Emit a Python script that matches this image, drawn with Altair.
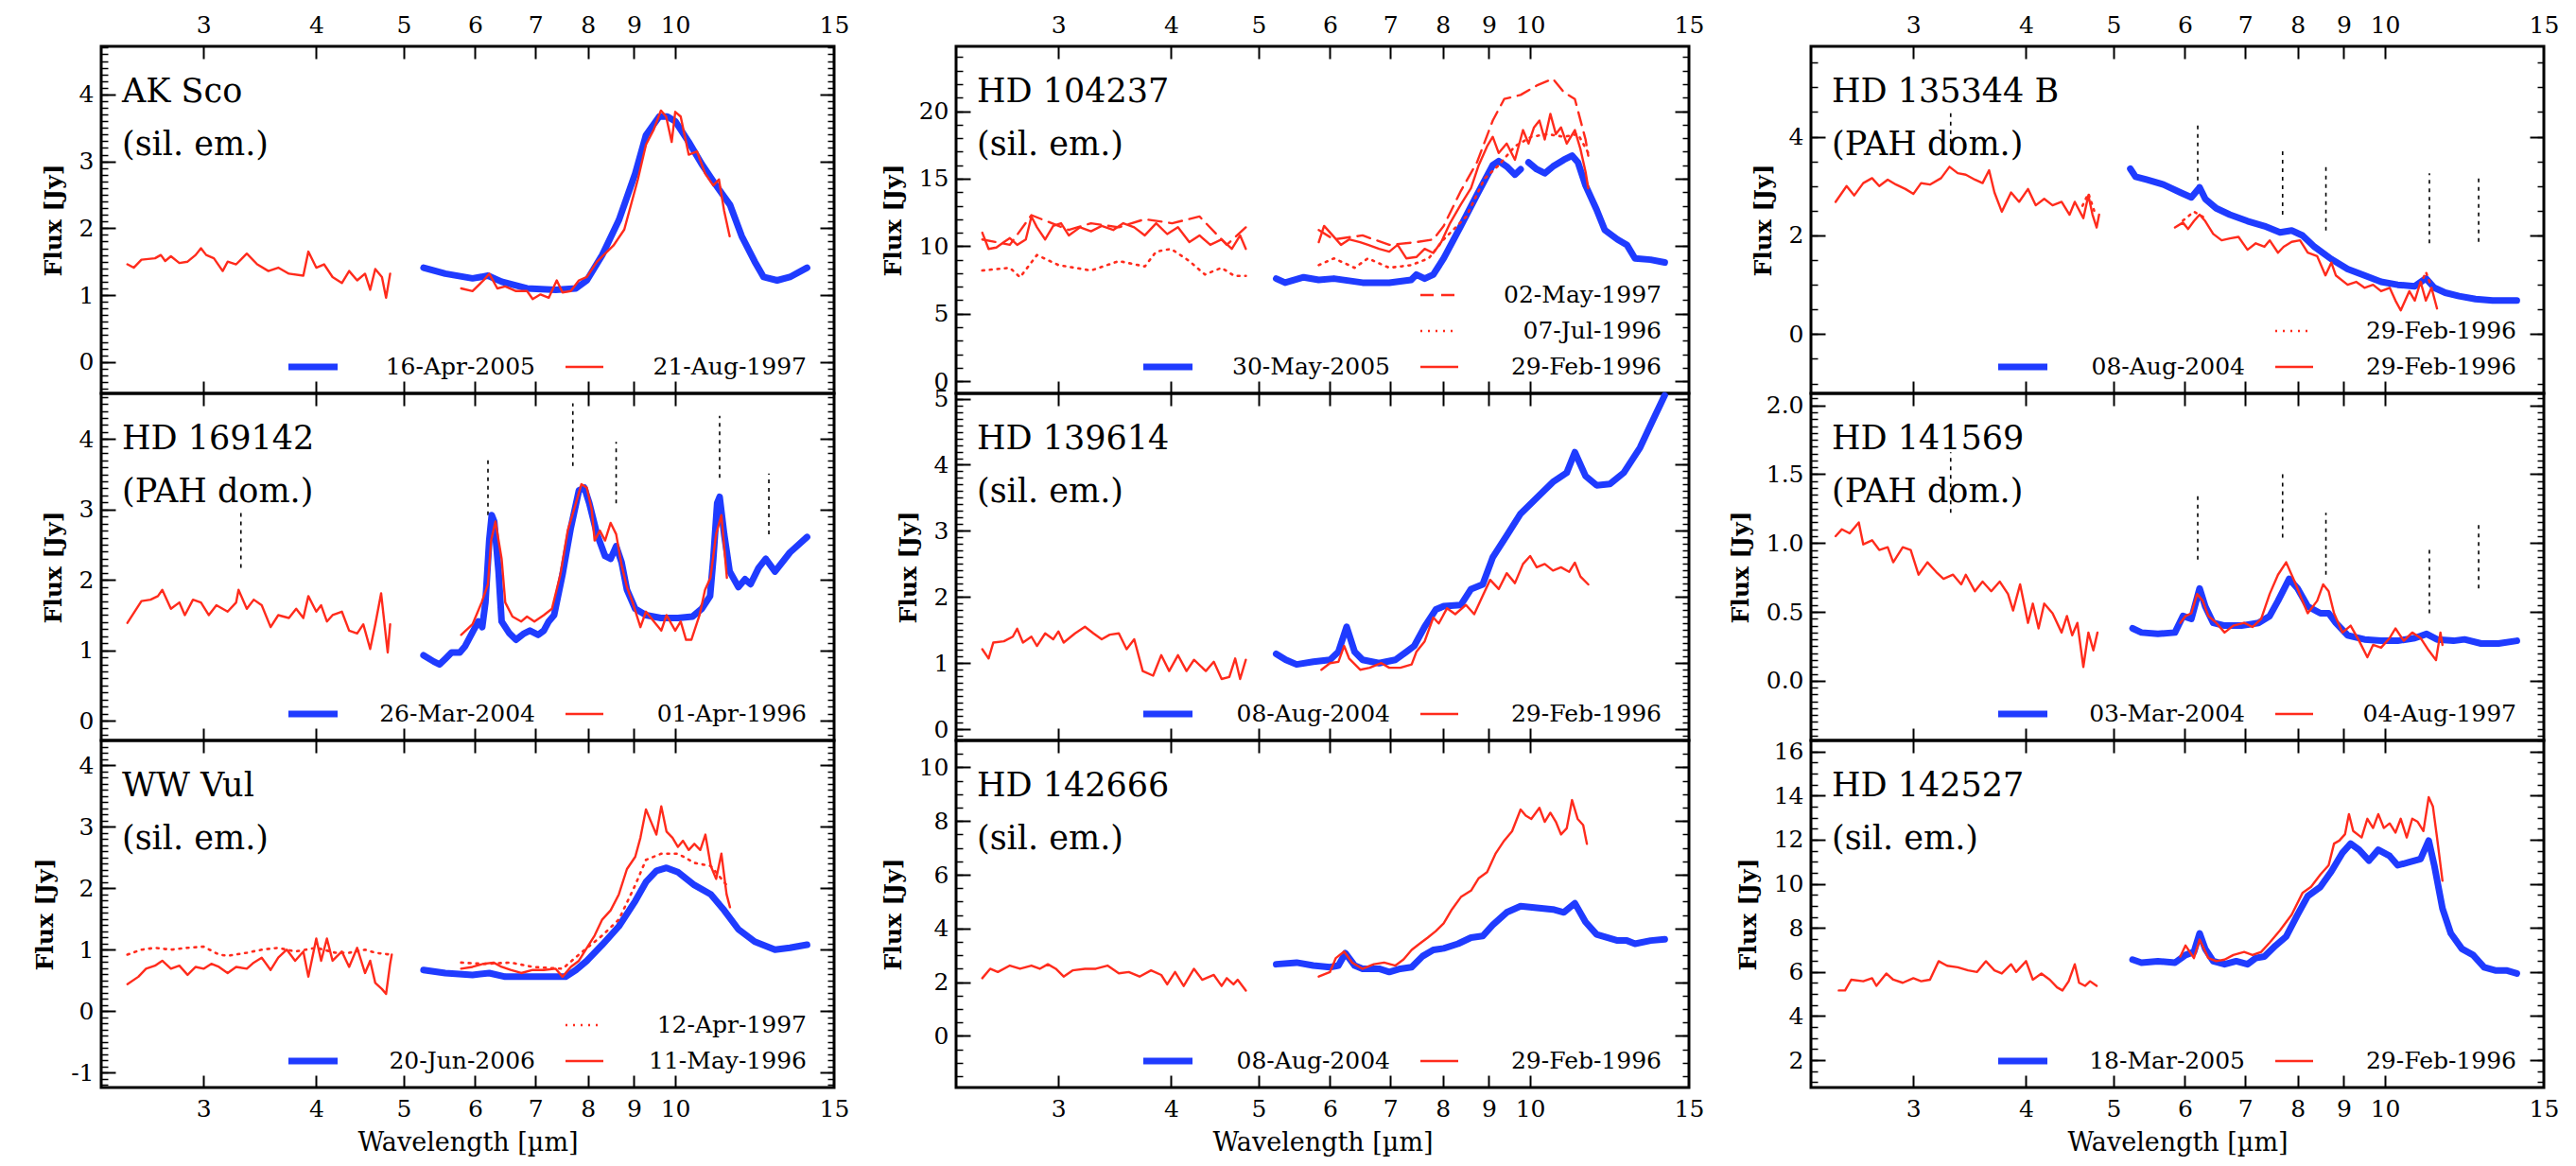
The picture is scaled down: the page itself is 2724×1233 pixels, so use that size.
import math
import altair as alt
import pandas as pd

# ---------------- data: (wavelength [um], flux [Jy]) ----------------
# AK Sco
AKSCO_BLUE = [(5.26,1.41),(5.56,1.32),(5.96,1.25),(6.2,1.29),(6.42,1.20),(6.85,1.10),(7.37,1.08),(7.76,1.10),(7.98,1.22),(8.3,1.60),(8.66,2.12),(9.03,2.82),(9.28,3.39),(9.6,3.67),(9.8,3.67),(10.0,3.60),(10.35,3.29),(10.7,2.96),(11.1,2.64),(11.5,2.35),(11.85,1.88),(12.25,1.50),(12.53,1.27),(12.97,1.22),(13.4,1.27),(14.0,1.41)]
AKSCO_RED_SW = [(2.47,1.46),(2.51,1.41),(2.56,1.53),(2.65,1.55),(2.69,1.60),(2.72,1.51),(2.76,1.58),(2.82,1.48),(2.88,1.50),(2.94,1.60),(2.98,1.70),(3.02,1.60),(3.08,1.55),(3.15,1.36),(3.19,1.50),(3.26,1.46),(3.35,1.62),(3.44,1.46),(3.54,1.36),(3.63,1.41),(3.73,1.32),(3.87,1.29),(3.92,1.65),(4.00,1.41),(4.08,1.46),(4.17,1.27),(4.27,1.18),(4.35,1.36),(4.44,1.22),(4.53,1.32),(4.59,1.08),(4.65,1.39),(4.73,1.27),(4.78,0.96),(4.83,1.32)]
AKSCO_RED_LW = [(5.79,1.10),(5.96,1.06),(6.13,1.22),(6.22,1.32),(6.35,1.10),(6.48,1.13),(6.66,1.06),(6.85,1.06),(6.95,0.94),(7.09,1.01),(7.24,0.96),(7.39,1.22),(7.50,1.04),(7.66,1.06),(7.82,1.22),(7.98,1.27),(8.19,1.50),(8.54,1.74),(8.78,1.98),(9.09,2.73),(9.28,3.25),(9.47,3.48),(9.64,3.76),(9.77,3.67),(9.91,3.29),(10.0,3.74),(10.14,3.67),(10.35,3.10),(10.57,3.15),(10.79,2.82),(11.02,2.64),(11.18,2.73),(11.33,2.26),(11.49,1.88)]

# HD 169142
HD169142_BLUE = [(5.26,0.93),(5.40,0.84),(5.48,0.80),(5.56,0.88),(5.65,0.97),(5.77,0.97),(5.85,1.06),(5.95,1.24),(6.05,1.41),(6.11,1.33),(6.16,1.68),(6.22,2.56),(6.26,2.92),(6.30,2.83),(6.37,2.12),(6.42,1.41),(6.55,1.24),(6.66,1.15),(6.80,1.24),(6.90,1.28),(7.05,1.22),(7.15,1.28),(7.24,1.41),(7.34,1.50),(7.50,2.08),(7.66,2.74),(7.82,3.27),(7.93,3.31),(8.03,3.09),(8.19,2.65),(8.36,2.34),(8.48,2.30),(8.60,2.48),(8.72,2.25),(8.84,1.86),(9.03,1.59),(9.28,1.50),(9.64,1.46),(10.07,1.46),(10.45,1.48),(10.7,1.59),(10.93,1.77),(11.02,2.30),(11.13,3.09),(11.2,3.18),(11.33,2.65),(11.49,2.12),(11.75,1.90),(11.95,2.01),(12.12,1.94),(12.37,2.17),(12.6,2.30),(12.9,2.12),(13.4,2.39),(14.0,2.61)]
HD169142_RED_SW = [(2.47,1.39),(2.56,1.70),(2.62,1.72),(2.67,1.77),(2.70,1.86),(2.76,1.59),(2.82,1.68),(2.86,1.50),(2.92,1.72),(2.98,1.68),(3.04,1.50),(3.10,1.64),(3.19,1.55),(3.26,1.68),(3.28,1.86),(3.35,1.59),(3.41,1.72),(3.48,1.64),(3.56,1.33),(3.63,1.50),(3.73,1.46),(3.80,1.59),(3.87,1.46),(3.92,1.77),(4.00,1.55),(4.05,1.64),(4.11,1.41),(4.17,1.50),(4.27,1.55),(4.35,1.28),(4.44,1.24),(4.51,1.37),(4.59,1.02),(4.65,1.37),(4.72,1.81),(4.77,1.28),(4.80,0.97),(4.83,1.37)]
HD169142_RED_LW = [(5.79,1.22),(5.96,1.37),(6.10,1.68),(6.20,1.94),(6.25,2.56),(6.32,2.83),(6.42,2.30),(6.48,1.68),(6.60,1.48),(6.75,1.41),(6.85,1.48),(6.98,1.41),(7.15,1.50),(7.30,1.59),(7.46,2.08),(7.60,2.70),(7.76,3.09),(7.87,3.36),(7.98,3.31),(8.08,3.00),(8.14,2.56),(8.25,2.70),(8.36,2.56),(8.48,2.81),(8.60,2.65),(8.72,2.21),(8.84,1.90),(8.97,1.68),(9.15,1.33),(9.28,1.55),(9.47,1.41),(9.65,1.28),(9.78,1.50),(10.0,1.28),(10.14,1.41),(10.28,1.15),(10.42,1.15),(10.64,1.50),(10.79,1.86),(10.94,2.03),(11.1,2.65),(11.25,2.92),(11.41,2.03)]

# WW Vul
WWVUL_BLUE = [(5.26,0.67),(5.56,0.62),(5.96,0.59),(6.22,0.62),(6.48,0.56),(6.95,0.56),(7.56,0.56),(7.76,0.67),(7.98,0.82),(8.30,1.08),(8.66,1.38),(9.03,1.79),(9.28,2.10),(9.53,2.28),(9.78,2.33),(10.07,2.26),(10.5,2.05),(10.95,1.90),(11.33,1.64),(11.75,1.33),(12.25,1.13),(12.9,1.00),(13.4,1.03),(14.0,1.08)]
WWVUL_RED_SW = [(2.47,0.44),(2.54,0.56),(2.59,0.69),(2.65,0.74),(2.70,0.82),(2.76,0.69),(2.82,0.74),(2.88,0.59),(2.94,0.72),(3.00,0.69),(3.06,0.77),(3.12,0.72),(3.19,0.62),(3.26,0.72),(3.35,0.69),(3.41,0.79),(3.48,0.87),(3.56,0.67),(3.63,0.87),(3.71,1.00),(3.79,0.82),(3.87,0.97),(3.92,0.56),(4.00,1.18),(4.05,0.82),(4.11,1.18),(4.17,0.82),(4.27,0.97),(4.35,0.72),(4.44,1.03),(4.53,0.62),(4.59,0.82),(4.65,0.46),(4.73,0.36),(4.78,0.28),(4.83,0.77),(4.85,0.92)]
WWVUL_RED_LW = [(5.79,0.69),(5.96,0.72),(6.13,0.77),(6.29,0.79),(6.42,0.72),(6.57,0.67),(6.75,0.62),(6.95,0.67),(7.15,0.67),(7.37,0.69),(7.50,0.56),(7.66,0.72),(7.82,0.82),(7.98,1.03),(8.14,1.23),(8.30,1.49),(8.48,1.64),(8.66,1.90),(8.84,2.31),(9.03,2.51),(9.15,2.82),(9.28,3.28),(9.40,3.08),(9.53,2.87),(9.65,3.33),(9.78,2.92),(9.93,2.82),(10.07,2.67),(10.2,2.77),(10.35,2.62),(10.5,2.72),(10.66,2.62),(10.8,2.87),(10.95,2.36),(11.1,2.15),(11.25,2.56),(11.4,1.90),(11.5,1.69)]
WWVUL_DOT_SW = [(2.47,0.92),(2.56,1.00),(2.65,1.03),(2.76,1.00),(2.88,1.03),(3.00,1.05),(3.12,0.92),(3.19,0.90),(3.35,0.95),(3.48,1.00),(3.63,1.03),(3.79,0.97),(4.00,1.03),(4.20,0.95),(4.35,0.95),(4.53,1.00),(4.65,0.95),(4.83,0.92)]
WWVUL_DOT_LW = [(5.79,0.79),(6.13,0.77),(6.57,0.79),(6.95,0.72),(7.50,0.69),(7.82,0.92),(8.30,1.23),(8.66,1.49),(9.03,2.05),(9.28,2.46),(9.65,2.56),(10.07,2.56),(10.5,2.41),(10.95,2.36),(11.4,2.05)]

# HD 104237
HD104237_BLUE_A = [(5.23,7.6),(5.35,7.3),(5.61,7.7),(5.83,7.5),(6.06,7.6),(6.52,7.3),(6.98,7.3),(7.38,7.5),(7.48,7.9),(7.64,7.6),(7.81,7.9),(8.02,9.1),(8.38,11.5),(8.73,13.8),(9.09,16.0),(9.23,16.3),(9.42,15.9),(9.62,15.3),(9.76,15.7)]
HD104237_BLUE_B = [(9.96,16.2),(10.17,15.7),(10.38,15.4),(10.6,15.9),(10.9,16.4),(11.13,16.7),(11.3,16.2),(11.52,14.5),(11.85,12.7),(12.1,11.2),(12.5,10.5),(12.8,10.1),(13.07,9.1),(13.6,9.0),(14.1,8.8)]
HD104237_RED_SW = [(2.47,11.0),(2.51,9.8),(2.56,9.9),(2.61,10.3),(2.65,10.6),(2.70,10.1),(2.76,10.5),(2.80,12.2),(2.84,11.4),(2.90,10.5),(2.96,11.5),(3.02,11.7),(3.08,10.8),(3.17,11.4),(3.26,11.1),(3.35,11.5),(3.45,11.2),(3.54,11.7),(3.64,11.4),(3.74,10.8),(3.85,11.7),(3.96,10.9),(4.07,11.4),(4.19,10.3),(4.30,10.8),(4.42,10.1),(4.55,10.5),(4.67,9.8),(4.77,10.8),(4.84,9.8)]
HD104237_RED_LW = [(5.83,10.3),(5.91,11.5),(6.04,10.8),(6.17,10.1),(6.30,10.5),(6.48,10.3),(6.61,10.1),(6.80,9.8),(6.98,9.6),(7.13,10.1),(7.29,9.1),(7.48,9.2),(7.64,9.8),(7.81,9.5),(7.97,10.3),(8.15,11.7),(8.38,13.1),(8.60,14.3),(8.77,16.0),(8.96,17.4),(9.09,18.1),(9.23,16.9),(9.42,17.6),(9.62,16.4),(9.82,18.6),(9.96,17.6),(10.1,18.8),(10.24,19.3),(10.38,17.9),(10.53,19.8),(10.68,18.3),(10.82,18.8),(10.98,17.6),(11.21,18.6),(11.37,17.2),(11.52,15.5),(11.6,14.3)]
HD104237_DASH_SW = [(2.47,10.5),(2.65,10.1),(2.80,12.3),(3.08,11.2),(3.26,11.7),(3.50,11.4),(3.74,12.0),(4.01,11.7),(4.30,12.2),(4.61,10.1),(4.84,11.4)]
HD104237_DASH_LW = [(5.83,11.2),(6.06,10.5),(6.52,10.8),(6.98,10.1),(7.48,10.3),(7.81,10.5),(8.02,11.5),(8.38,14.1),(8.73,16.2),(9.09,19.3),(9.36,20.9),(9.76,21.2),(10.17,21.9),(10.6,22.4),(10.9,21.4),(11.21,20.9),(11.52,17.9),(11.6,16.7)]
HD104237_DOT_SW = [(2.47,8.2),(2.65,8.4),(2.72,7.7),(2.84,9.35),(3.00,8.6),(3.26,8.2),(3.50,8.9),(3.74,8.5),(3.85,9.6),(4.00,9.8),(4.19,8.9),(4.36,7.9),(4.55,8.4),(4.70,7.8),(4.84,7.8)]
HD104237_DOT_LW = [(5.83,8.6),(6.06,9.1),(6.39,8.4),(6.61,9.1),(6.98,8.4),(7.38,8.6),(7.72,9.1),(8.02,10.5),(8.50,12.2),(8.90,15.0),(9.23,16.0),(9.62,17.4),(10.03,18.1),(10.45,18.3),(10.9,18.1),(11.3,18.3),(11.6,16.9)]

# HD 139614
HD139614_BLUE = [(5.23,1.14),(5.36,1.05),(5.51,0.98),(5.75,1.02),(6.0,1.05),(6.13,1.17),(6.26,1.55),(6.39,1.17),(6.52,1.05),(6.80,1.00),(7.09,1.05),(7.29,1.17),(7.44,1.26),(7.64,1.55),(7.86,1.81),(8.02,1.86),(8.38,1.88),(8.60,2.12),(8.86,2.19),(9.09,2.60),(9.42,2.93),(9.76,3.26),(10.17,3.50),(10.6,3.74),(10.98,3.88),(11.21,4.19),(11.52,3.83),(11.85,3.69),(12.26,3.71),(12.7,3.88),(13.24,4.26),(13.6,4.60),(14.1,5.05)]
HD139614_RED_SW = [(2.47,1.21),(2.51,1.07),(2.54,1.31),(2.61,1.33),(2.67,1.40),(2.70,1.52),(2.74,1.31),(2.80,1.40),(2.84,1.26),(2.90,1.45),(2.96,1.36),(3.00,1.48),(3.04,1.31),(3.13,1.45),(3.21,1.55),(3.28,1.45),(3.35,1.36),(3.42,1.43),(3.50,1.45),(3.57,1.21),(3.64,1.36),(3.72,0.88),(3.82,0.81),(3.90,1.12),(3.98,0.88),(4.07,1.12),(4.16,0.88),(4.24,1.05),(4.37,0.88),(4.46,1.02),(4.55,0.76),(4.64,0.79),(4.71,1.07),(4.77,0.76),(4.84,1.05)]
HD139614_RED_LW = [(5.87,0.90),(6.0,1.00),(6.13,1.02),(6.22,1.26),(6.30,1.07),(6.48,0.90),(6.64,0.93),(6.84,1.00),(6.98,0.93),(7.18,0.93),(7.39,0.98),(7.48,1.17),(7.64,1.33),(7.81,1.69),(7.92,1.60),(8.09,1.83),(8.26,1.74),(8.49,1.88),(8.67,1.74),(8.86,2.02),(9.03,2.26),(9.23,2.12),(9.42,2.36),(9.62,2.21),(9.82,2.50),(10.0,2.62),(10.17,2.45),(10.38,2.50),(10.6,2.40),(10.82,2.45),(11.05,2.38),(11.21,2.52),(11.37,2.31),(11.6,2.19)]

# HD 142666
HD142666_BLUE = [(5.23,2.67),(5.51,2.73),(5.75,2.62),(6.0,2.56),(6.13,2.62),(6.24,3.08),(6.39,2.62),(6.52,2.50),(6.80,2.50),(6.98,2.38),(7.18,2.50),(7.39,2.56),(7.60,2.97),(7.81,3.20),(8.02,3.26),(8.32,3.43),(8.60,3.66),(8.86,3.72),(9.09,4.13),(9.42,4.60),(9.76,4.83),(10.17,4.77),(10.6,4.71),(10.9,4.60),(11.21,4.94),(11.52,4.24),(11.85,3.78),(12.5,3.55),(12.8,3.55),(13.07,3.43),(13.6,3.55),(14.1,3.60)]
HD142666_RED_SW = [(2.47,2.15),(2.52,2.50),(2.57,2.38),(2.65,2.62),(2.72,2.50),(2.80,2.62),(2.86,2.50),(2.92,2.67),(2.98,2.50),(3.04,2.21),(3.11,2.44),(3.21,2.50),(3.30,2.50),(3.40,2.62),(3.50,2.33),(3.59,2.38),(3.69,2.21),(3.80,2.44),(3.90,2.27),(3.96,1.92),(4.04,2.38),(4.13,1.86),(4.24,2.50),(4.33,2.09),(4.46,2.27),(4.55,1.86),(4.61,2.15),(4.69,1.92),(4.74,2.09),(4.84,1.69)]
HD142666_RED_LW = [(5.83,2.21),(6.0,2.38),(6.09,2.90),(6.22,3.14),(6.35,2.73),(6.52,2.50),(6.71,2.67),(6.89,2.73),(7.09,2.62),(7.24,2.85),(7.39,3.20),(7.54,3.43),(7.70,3.66),(7.86,3.90),(8.02,4.19),(8.19,4.71),(8.38,5.17),(8.60,5.41),(8.77,5.87),(8.96,6.10),(9.16,6.80),(9.36,7.27),(9.55,7.62),(9.76,8.43),(9.89,8.20),(10.03,8.08),(10.24,8.49),(10.38,7.97),(10.53,8.31),(10.68,7.97),(10.82,7.50),(10.98,7.73),(11.13,8.78),(11.29,8.08),(11.45,7.85),(11.56,7.15)]

# HD 135344 B
HD135344_BLUE = [(5.22,3.35),(5.29,3.19),(5.44,3.13),(5.68,3.03),(5.93,2.87),(6.10,2.77),(6.23,2.97),(6.32,2.74),(6.50,2.55),(6.73,2.42),(7.04,2.29),(7.35,2.19),(7.65,2.06),(7.88,2.10),(8.10,2.00),(8.35,1.77),(8.72,1.52),(9.09,1.32),(9.49,1.19),(9.90,1.06),(10.33,1.00),(10.79,0.97),(11.1,1.13),(11.34,0.94),(11.66,0.84),(12.08,0.77),(12.6,0.71),(13.16,0.68),(14.0,0.68)]
HD135344_RED_SW = [(2.46,2.68),(2.53,3.00),(2.58,2.81),(2.64,3.06),(2.70,3.16),(2.75,3.00),(2.81,3.13),(2.87,3.03),(2.94,2.94),(3.00,2.84),(3.06,3.06),(3.13,3.03),(3.22,3.16),(3.29,3.39),(3.36,3.26),(3.43,3.23),(3.51,3.13),(3.58,3.06),(3.64,3.32),(3.69,2.87),(3.76,2.48),(3.85,2.87),(3.93,2.68),(4.02,2.94),(4.10,2.61),(4.19,2.74),(4.28,2.61),(4.38,2.68),(4.47,2.42),(4.53,2.68),(4.63,2.35),(4.69,2.81),(4.74,2.42),(4.79,2.16),(4.82,2.42)]
HD135344_RED_LW = [(5.85,2.16),(5.97,2.26),(6.05,2.13),(6.14,2.29),(6.23,2.42),(6.32,2.29),(6.45,2.03),(6.59,1.90),(6.73,1.94),(6.88,1.97),(7.04,1.71),(7.19,1.84),(7.35,1.77),(7.45,1.90),(7.61,1.65),(7.72,1.77),(7.88,1.87),(8.05,1.90),(8.21,1.65),(8.41,1.58),(8.59,1.19),(8.72,1.45),(8.82,1.19),(9.09,1.00),(9.29,1.06),(9.49,0.94),(9.70,1.00),(9.90,0.87),(10.12,0.94),(10.27,0.68),(10.41,0.48),(10.64,0.87),(10.79,0.68),(10.95,1.06),(11.1,0.68),(11.26,0.94),(11.42,0.52)]
HD135344_DOT_A = [(4.62,2.60),(4.69,2.85),(4.76,2.50)]
HD135344_DOT_B = [(5.97,2.30),(6.14,2.48),(6.32,2.35)]
HD135344_DOT_C = [(10.95,1.00),(11.1,1.26),(11.26,0.95)]

# HD 141569
HD141569_BLUE = [(5.25,0.38),(5.37,0.35),(5.60,0.34),(5.85,0.35),(5.97,0.47),(6.10,0.45),(6.23,0.67),(6.32,0.54),(6.45,0.42),(6.64,0.40),(6.93,0.40),(7.24,0.42),(7.45,0.47),(7.61,0.58),(7.83,0.74),(8.00,0.67),(8.21,0.54),(8.48,0.49),(8.66,0.49),(8.82,0.42),(9.09,0.33),(9.49,0.30),(9.90,0.29),(10.33,0.29),(10.79,0.31),(11.12,0.34),(11.42,0.30),(11.91,0.29),(12.25,0.30),(12.78,0.27),(13.36,0.27),(14.0,0.29)]
HD141569_RED_SW = [(2.46,1.05),(2.50,1.10),(2.55,1.07),(2.61,1.15),(2.64,0.99),(2.70,1.02),(2.75,0.95),(2.81,0.97),(2.85,0.86),(2.92,0.97),(2.98,0.95),(3.04,0.77),(3.11,0.86),(3.18,0.79),(3.24,0.74),(3.32,0.77),(3.39,0.70),(3.43,0.77),(3.51,0.65),(3.58,0.72),(3.66,0.65),(3.74,0.72),(3.82,0.63),(3.87,0.51),(3.94,0.70),(4.02,0.42),(4.07,0.56),(4.13,0.38),(4.19,0.56),(4.28,0.49),(4.38,0.35),(4.44,0.47),(4.50,0.33),(4.56,0.42),(4.63,0.10),(4.69,0.35),(4.75,0.22),(4.80,0.35)]
HD141569_RED_LW = [(5.93,0.42),(6.01,0.47),(6.10,0.49),(6.19,0.63),(6.28,0.58),(6.37,0.47),(6.50,0.42),(6.64,0.35),(6.79,0.40),(6.98,0.42),(7.13,0.39),(7.29,0.45),(7.45,0.63),(7.61,0.77),(7.77,0.86),(7.94,0.72),(8.10,0.58),(8.21,0.49),(8.41,0.58),(8.54,0.70),(8.66,0.65),(8.78,0.49),(8.97,0.35),(9.16,0.40),(9.36,0.29),(9.56,0.17),(9.70,0.26),(9.90,0.24),(10.12,0.31),(10.27,0.38),(10.49,0.29),(10.72,0.35),(10.95,0.31),(11.18,0.22),(11.39,0.15),(11.52,0.35),(11.58,0.26)]

# HD 142527
HD142527_BLUE = [(5.25,6.56),(5.37,6.42),(5.60,6.49),(5.85,6.42),(6.01,6.77),(6.14,6.91),(6.23,7.75),(6.32,7.05),(6.45,6.49),(6.64,6.35),(6.84,6.49),(7.04,6.35),(7.19,6.63),(7.35,6.70),(7.56,7.19),(7.77,7.61),(8.00,8.60),(8.21,9.44),(8.48,9.86),(8.72,10.56),(8.97,11.40),(9.16,11.82),(9.36,11.54),(9.60,11.05),(9.83,11.54),(10.12,11.26),(10.33,10.84),(10.64,10.98),(10.95,11.12),(11.18,11.96),(11.34,10.84),(11.58,8.88),(11.83,7.75),(12.17,7.05),(12.52,6.77),(12.88,6.21),(13.25,6.07),(13.63,6.07),(14.0,5.93)]
HD142527_RED_SW = [(2.48,5.16),(2.52,5.16),(2.56,5.65),(2.64,5.58),(2.70,5.72),(2.73,5.37),(2.80,5.93),(2.85,5.65),(2.92,5.51),(3.00,5.72),(3.06,5.58),(3.13,5.65),(3.20,6.49),(3.27,6.28),(3.36,6.21),(3.45,6.07),(3.53,6.00),(3.61,6.49),(3.69,6.07),(3.76,5.93),(3.85,6.35),(3.90,6.00),(4.00,6.49),(4.07,5.65),(4.16,5.93),(4.25,5.65),(4.33,5.30),(4.39,5.16),(4.46,5.58),(4.53,6.35),(4.58,5.51),(4.65,5.37),(4.71,5.58),(4.79,5.37)]
HD142527_RED_LW = [(5.93,6.70),(6.01,7.20),(6.14,6.63),(6.23,7.47),(6.37,6.63),(6.50,6.49),(6.64,6.56),(6.79,6.77),(6.98,6.91),(7.13,6.77),(7.29,6.91),(7.45,7.33),(7.65,7.89),(7.88,8.60),(8.10,9.58),(8.28,9.86),(8.48,10.42),(8.66,10.84),(8.78,11.82),(8.90,11.96),(9.03,12.25),(9.12,13.16),(9.22,12.39),(9.42,12.10),(9.56,12.95),(9.70,12.53),(9.83,13.16),(9.97,12.53),(10.12,12.74),(10.27,12.32),(10.41,12.95),(10.57,12.10),(10.72,12.95),(10.87,12.81),(11.03,12.39),(11.18,13.93),(11.30,13.51),(11.42,12.10),(11.58,10.14)]

# PAH feature markers (wavelength) and per-panel dotted-line extents [low, high]
PAH_LAM = [3.3, 6.2, 7.7, 8.6, 11.2, 12.7]
HD169142_PAH = [(2.17,3.00),(2.92,3.76),(3.62,4.51),(3.09,3.96),(3.45,4.33),(2.65,3.51)]
HD135344_PAH = [(3.71,4.48),(2.94,4.29),(2.42,3.77),(2.10,3.39),(1.84,3.26),(1.87,3.16)]
HD141569_PAH = [(1.22,1.66),(0.88,1.34),(1.04,1.50),(0.77,1.22),(0.49,0.96),(0.67,1.13)]

# axis tick labels
X_DOMAIN = [2.31, 15.0]
X_LABELS = [3, 4, 5, 6, 7, 8, 9, 10, 15]
X_MAJOR = [3, 4, 5, 6, 7, 8, 9, 10]

PANELS = [
    [
        dict(name="AK Sco", kind="(sil. em.)", ydom=[-0.47, 4.72], ymajor=[0, 1, 2, 3, 4], ystep=0.1, fmt="d",
             lines=[("blue", [AKSCO_BLUE]), ("red", [AKSCO_RED_SW, AKSCO_RED_LW])],
             legend=[("blue", "16-Apr-2005", 0, 0), ("red", "21-Aug-1997", 0, 1)], pah=None),
        dict(name="HD 169142", kind="(PAH dom.)", ydom=[-0.28, 4.65], ymajor=[0, 1, 2, 3, 4], ystep=0.1, fmt="d",
             lines=[("blue", [HD169142_BLUE]), ("red", [HD169142_RED_SW, HD169142_RED_LW])],
             legend=[("blue", "26-Mar-2004", 0, 0), ("red", "01-Apr-1996", 0, 1)], pah=HD169142_PAH),
        dict(name="WW Vul", kind="(sil. em.)", ydom=[-1.24, 4.4], ymajor=[-1, 0, 1, 2, 3, 4], ystep=0.1, fmt="d",
             lines=[("blue", [WWVUL_BLUE]), ("red", [WWVUL_RED_SW, WWVUL_RED_LW]), ("reddot", [WWVUL_DOT_SW, WWVUL_DOT_LW])],
             legend=[("reddot", "12-Apr-1997", 1, 1), ("blue", "20-Jun-2006", 0, 0), ("red", "11-May-1996", 0, 1)], pah=None),
    ],
    [
        dict(name="HD 104237", kind="(sil. em.)", ydom=[-0.9, 24.8], ymajor=[0, 5, 10, 15, 20], ystep=1, fmt="d",
             lines=[("blue", [HD104237_BLUE_A, HD104237_BLUE_B]), ("red", [HD104237_RED_SW, HD104237_RED_LW]),
                    ("reddash", [HD104237_DASH_SW, HD104237_DASH_LW]), ("reddot", [HD104237_DOT_SW, HD104237_DOT_LW])],
             legend=[("reddash", "02-May-1997", 2, 1), ("reddot", "07-Jul-1996", 1, 1),
                     ("blue", "30-May-2005", 0, 0), ("red", "29-Feb-1996", 0, 1)], pah=None),
        dict(name="HD 139614", kind="(sil. em.)", ydom=[-0.17, 5.08], ymajor=[0, 1, 2, 3, 4, 5], ystep=0.1, fmt="d",
             lines=[("blue", [HD139614_BLUE]), ("red", [HD139614_RED_SW, HD139614_RED_LW])],
             legend=[("blue", "08-Aug-2004", 0, 0), ("red", "29-Feb-1996", 0, 1)], pah=None),
        dict(name="HD 142666", kind="(sil. em.)", ydom=[-1.92, 11.0], ymajor=[0, 2, 4, 6, 8, 10], ystep=0.5, fmt="d",
             lines=[("blue", [HD142666_BLUE]), ("red", [HD142666_RED_SW, HD142666_RED_LW])],
             legend=[("blue", "08-Aug-2004", 0, 0), ("red", "29-Feb-1996", 0, 1)], pah=None),
    ],
    [
        dict(name="HD 135344 B", kind="(PAH dom.)", ydom=[-1.2, 5.83], ymajor=[0, 2, 4], ystep=0.5, fmt="d",
             lines=[("blue", [HD135344_BLUE]), ("red", [HD135344_RED_SW, HD135344_RED_LW]),
                    ("reddot", [HD135344_DOT_A, HD135344_DOT_B, HD135344_DOT_C])],
             legend=[("reddot", "29-Feb-1996", 1, 1), ("blue", "08-Aug-2004", 0, 0), ("red", "29-Feb-1996", 0, 1)],
             pah=HD135344_PAH),
        dict(name="HD 141569", kind="(PAH dom.)", ydom=[-0.434, 2.087], ymajor=[0, 0.5, 1.0, 1.5, 2.0], ystep=0.05, fmt=".1f",
             lines=[("blue", [HD141569_BLUE]), ("red", [HD141569_RED_SW, HD141569_RED_LW])],
             legend=[("blue", "03-Mar-2004", 0, 0), ("red", "04-Aug-1997", 0, 1)], pah=HD141569_PAH),
        dict(name="HD 142527", kind="(sil. em.)", ydom=[0.76, 16.5], ymajor=[2, 4, 6, 8, 10, 12, 14, 16], ystep=0.5, fmt="d",
             lines=[("blue", [HD142527_BLUE]), ("red", [HD142527_RED_SW, HD142527_RED_LW])],
             legend=[("blue", "18-Mar-2005", 0, 0), ("red", "29-Feb-1996", 0, 1)], pah=None),
    ],
]

# ---------------- styling ----------------
W, H = 775, 367
COL_GAP = 129
FONT = "DejaVu Serif"
BLUE = "#1f3bff"
RED = "#ff2b1c"
STYLES = {
    "blue": dict(color=BLUE, strokeWidth=7),
    "red": dict(color=RED, strokeWidth=2.4),
    "reddash": dict(color=RED, strokeWidth=2.4, strokeDash=[14, 8]),
    "reddot": dict(color=RED, strokeWidth=2.6, strokeDash=[2, 6]),
}
LEG_SAMPLE = {0: (198, 250), 1: (491, 531)}
LEG_TEXT_X = {0: 459, 1: 746}
LEG_Y0 = 339
LEG_DY = 38


def minor_values(dom, step):
    k = math.ceil(dom[0] / step - 1e-9)
    vals = []
    while k * step <= dom[1] + 1e-9:
        vals.append(round(k * step, 6))
        k += 1
    return vals


def label_expr(fmt):
    if fmt == "d":
        return "(datum.value < 0 ? '-' : '') + format(abs(datum.value), 'd')"
    return "format(datum.value, '.1f')"


def make_panel(p, row):
    rows = []
    for style, segs in p["lines"]:
        for i, seg in enumerate(segs):
            for lam, f in seg:
                rows.append({"lam": lam, "flux": f, "seg": f"{style}{i}", "style": style})
    df = pd.DataFrame(rows)

    xs = alt.Scale(type="log", domain=X_DOMAIN, nice=False)
    ys = alt.Scale(domain=p["ydom"], nice=False, zero=False)

    def axis_layer(xaxis, yaxis):
        return alt.Chart(df).mark_point(opacity=0, size=1).encode(
            x=alt.X("lam:Q", scale=xs, axis=xaxis),
            y=alt.Y("flux:Q", scale=ys, axis=yaxis),
        )

    tick = dict(labels=False, domain=False, grid=False, title=None, tickColor="black")
    x_in_b = alt.Axis(orient="top", offset=-H, values=X_MAJOR, tickSize=13, tickWidth=2, **tick)
    x_in_t = alt.Axis(orient="bottom", offset=-H, values=X_MAJOR, tickSize=13, tickWidth=2, **tick)
    y_in_l = alt.Axis(orient="right", offset=-W, values=p["ymajor"], tickSize=15, tickWidth=2, **tick)
    y_in_r = alt.Axis(orient="left", offset=-W, values=p["ymajor"], tickSize=15, tickWidth=2, **tick)
    mins = minor_values(p["ydom"], p["ystep"])
    y_mn_l = alt.Axis(orient="right", offset=-W, values=mins, tickSize=7, tickWidth=1.5, **tick)
    y_mn_r = alt.Axis(orient="left", offset=-W, values=mins, tickSize=7, tickWidth=1.5, **tick)

    y_lab = alt.Axis(orient="left", values=p["ymajor"], ticks=False, domain=False, grid=False,
                     labelExpr=label_expr(p["fmt"]), labelFont=FONT, labelFontSize=25, labelColor="black",
                     labelPadding=8, labelOverlap=False, title="Flux [Jy]", titleFont=FONT,
                     titleFontSize=25, titleFontWeight="bold", titleColor="black", titlePadding=14)
    xlab_common = dict(values=X_LABELS, ticks=False, domain=False, grid=False,
                       labelExpr="format(datum.value, 'd')", labelFont=FONT, labelFontSize=25,
                       labelColor="black", labelPadding=10, labelFlush=False, labelOverlap=False)
    if row == 0:
        x_lab = alt.Axis(orient="top", title=None, **xlab_common)
    elif row == 2:
        x_lab = alt.Axis(orient="bottom", title="Wavelength [µm]", titleFont=FONT, titleFontSize=27,
                         titleFontWeight="normal", titleColor="black", titlePadding=10, **xlab_common)
    else:
        x_lab = None

    layers = [
        axis_layer(x_in_b, y_in_l),
        axis_layer(x_in_t, y_in_r),
        axis_layer(None, y_mn_l),
        axis_layer(None, y_mn_r),
        axis_layer(x_lab, y_lab),
    ]

    if p["pah"]:
        pah_df = pd.DataFrame({"lam": PAH_LAM, "lo": [a for a, b in p["pah"]], "hi": [b for a, b in p["pah"]]})
        layers.append(
            alt.Chart(pah_df).mark_rule(color="black", strokeWidth=1.6, strokeDash=[4, 5]).encode(
                x=alt.X("lam:Q", scale=xs, axis=None),
                y=alt.Y("lo:Q", scale=ys, axis=None),
                y2="hi:Q",
            )
        )

    for style in ["blue", "red", "reddash", "reddot"]:
        sub = df[df["style"] == style]
        if sub.empty:
            continue
        layers.append(
            alt.Chart(sub).mark_line(strokeCap="round", strokeJoin="round", **STYLES[style]).encode(
                x=alt.X("lam:Q", scale=xs, axis=None),
                y=alt.Y("flux:Q", scale=ys, axis=None),
                detail="seg:N",
            )
        )

    # star name and class
    for txt, ty in [(p["name"], 48), (p["kind"], 104)]:
        layers.append(
            alt.Chart(pd.DataFrame({"t": [txt]})).mark_text(
                align="left", baseline="middle", font=FONT, fontSize=35, color="black"
            ).encode(x=alt.value(22), y=alt.value(ty), text="t:N")
        )

    # legend
    for style, label, lrow, lcol in p["legend"]:
        yy = LEG_Y0 - LEG_DY * lrow
        x1, x2 = LEG_SAMPLE[lcol]
        st = dict(STYLES[style])
        layers.append(
            alt.Chart(pd.DataFrame({"t": [label]})).mark_rule(**st).encode(
                x=alt.value(x1), x2=alt.value(x2), y=alt.value(yy)
            )
        )
        layers.append(
            alt.Chart(pd.DataFrame({"t": [label]})).mark_text(
                align="right", baseline="middle", font=FONT, fontSize=25, color="black"
            ).encode(x=alt.value(LEG_TEXT_X[lcol]), y=alt.value(yy), text="t:N")
        )

    return alt.layer(*layers).resolve_axis(x="independent", y="independent").properties(width=W, height=H)


# row-major order for a 3-column grid
cells = []
for r in range(3):
    for c in range(3):
        cells.append(make_panel(PANELS[c][r], r))

chart = alt.concat(*cells, columns=3, spacing={"row": 0, "column": COL_GAP}, bounds="flush").configure(
    padding={"left": 34, "top": 12, "right": 10, "bottom": 6},
    background="white",
    font=FONT,
).configure_view(stroke="black", strokeWidth=3)

chart.save("out.html", embed_options={"renderer": "svg", "actions": False})
